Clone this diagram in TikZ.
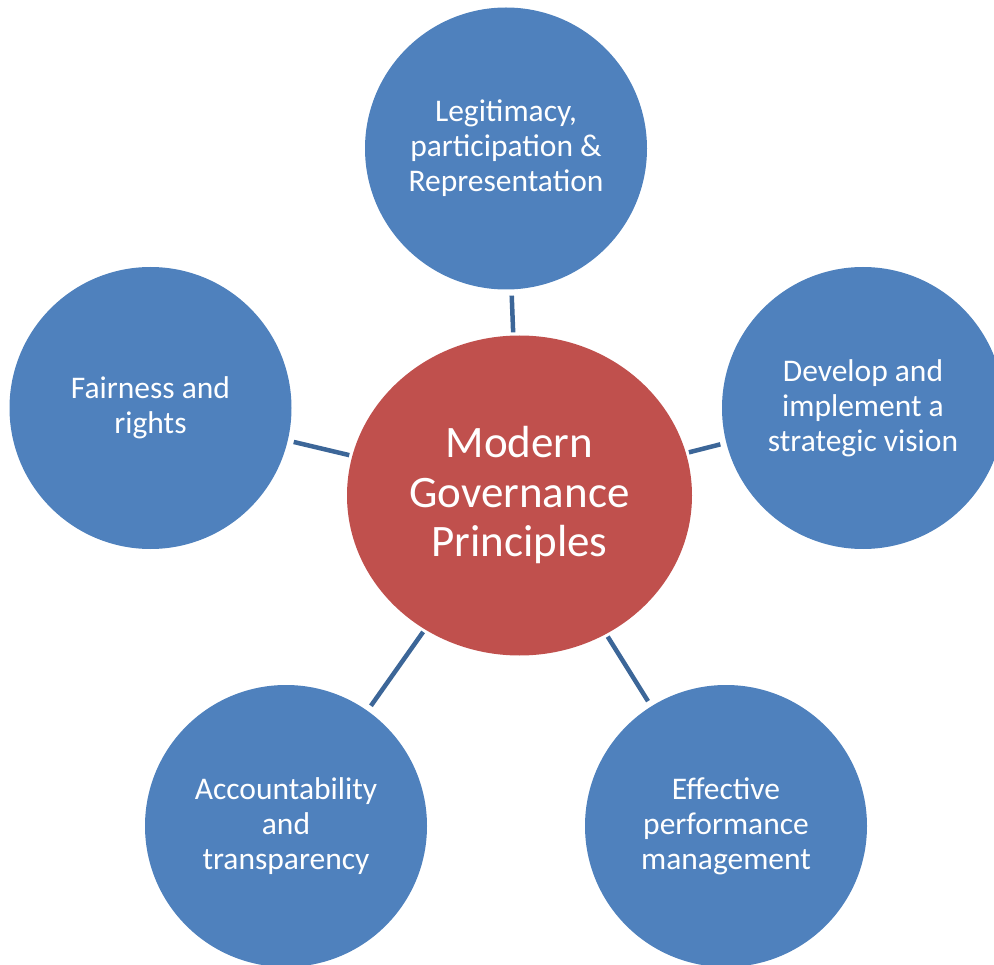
\documentclass[tikz,border=0pt]{standalone}
\usepackage{fontspec}
\setmainfont{Carlito}
\usetikzlibrary{positioning, shapes.geometric}

\definecolor{hubred}{RGB}{192,80,77}
\definecolor{petalblue}{RGB}{79,129,189}
\definecolor{linkblue}{RGB}{60,102,152}

\begin{document}
\begin{tikzpicture}
    [
        x=1pt, y=-1pt,
        basic/.style = {text=white, align=center, inner sep=0pt},
        hubnode/.style = {basic, ellipse, fill=hubred, minimum width=345pt, minimum height=320pt,
                          font=\fontsize{45}{49.5}\selectfont},
        petal/.style = {basic, circle, fill=petalblue, minimum size=282pt,
                        font=\fontsize{31.5}{35}\selectfont},
        link/.style = {draw=linkblue, line width=4.5pt, shorten <=3pt, shorten >=6pt},
        on grid
    ]
    \path [use as bounding box] (0,0) rectangle (994,965);

    \node [hubnode] (hub) at (519.5,495.5) {Modern\\Governance\\Principles};

    \node [petal, above left=347pt and 13.5pt of hub] (legit) {Legitimacy,\\participation \&\\Representation};
    \node [petal, above right=87.5pt and 343.5pt of hub] (vision) {Develop and\\implement a\\strategic vision};
    \node [petal, above left=87.5pt and 369pt of hub] (fair) {Fairness and\\rights};
    \node [petal, below left=330.5pt and 233.5pt of hub] (account) {Accountability\\and\\transparency};
    \node [petal, below right=330.5pt and 206.5pt of hub] (perform) {Effective\\performance\\management};

    \foreach \i in {legit, vision, fair, account, perform} \draw [link] (hub) -- (\i);

\end{tikzpicture}
\end{document}
